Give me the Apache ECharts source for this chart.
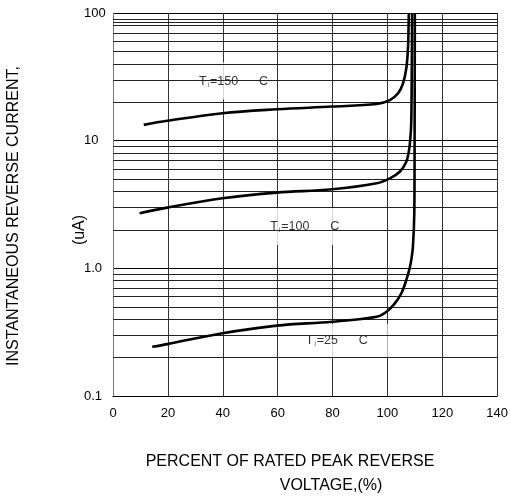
<!DOCTYPE html>
<html>
<head>
<meta charset="utf-8">
<script src="https://cdn.jsdelivr.net/npm/echarts@6/dist/echarts.min.js"></script>
<style>
  html, body { margin: 0; padding: 0; background: #fff; }
  #chart { width: 511px; height: 499px; }
</style>
</head>
<body>
<div id="chart"></div>
<script>
var chartDom = document.getElementById('chart');
var myChart = echarts.init(chartDom);
var option;

// x ticks (percent of rated peak reverse voltage)
const xTicks = [0, 20, 40, 60, 80, 100, 120, 140];
// y tick labels on the log axis
const yTickLabels = { '-1': '0.1', '0': '1.0', '1': '10', '2': '100' };
// the minor grid lines (one extra line at 85 in the top decade)
const gridValues = [
  0.2, 0.3, 0.4, 0.5, 0.6, 0.7, 0.8, 0.9,
  2, 3, 4, 5, 6, 7, 8, 9,
  20, 30, 40, 50, 60, 70, 80, 85, 90
];

// curves: [percent, uA]
const tj150 = [
  [11.2, 13.3], [19.8, 14.3], [39.9, 16.4], [59.7, 17.6], [79.9, 18.5],
  [96.1, 19.4], [100.9, 20.8], [103.9, 23.5], [105.7, 28.1], [106.9, 36.9],
  [107.5, 52.9], [107.7, 76], [107.8, 100]
];
const tj100 = [
  [9.7, 2.70], [19.8, 2.99], [39.9, 3.54], [59.7, 3.92], [79.9, 4.16],
  [96.1, 4.64], [100.9, 5.07], [104.5, 5.71], [106.9, 6.84], [107.9, 8.45],
  [108.4, 10.7], [108.7, 14], [108.9, 40], [109.0, 100]
];
const tj25 = [
  [14.3, 0.243], [19.8, 0.255], [39.9, 0.31], [59.7, 0.356], [79.9, 0.382],
  [96.1, 0.418], [99.7, 0.457], [102.7, 0.532], [105.1, 0.638], [106.9, 0.811],
  [108.1, 1.0], [108.7, 1.16], [109.3, 1.48], [109.8, 2.7], [109.9, 6.7],
  [110.0, 100]
];

// curve labels: [percent, uA, temperature]
const tempLabels = [
  [27.7, 29.3, '150'],
  [51.5, 2.13, '100'],
  [66.6, 0.272, '25']
];
const labelPad = [
  [12, 1, 12, 10],
  [12, 4, 12, 16],
  [10, 20, 10, 10]
];

const font = 'Liberation Sans';

function curve(name, data) {
  return {
    name: name,
    type: 'line',
    data: data,
    smooth: 0.35,
    showSymbol: false,
    symbol: 'none',
    z: 5,
    lineStyle: { color: '#000', width: 2.6 },
    silent: true
  };
}

function titleText(text, x, y, rotate) {
  return {
    type: 'text',
    x: x,
    y: y,
    rotation: rotate ? Math.PI / 2 : 0,
    style: {
      text: text,
      x: 0, y: 0,
      fill: '#000',
      font: '16px "Liberation Sans"',
      textAlign: 'center',
      textVerticalAlign: 'middle'
    }
  };
}

option = {
  animation: false,
  backgroundColor: '#fff',
  grid: { left: 113, top: 13, right: 9, bottom: 103 },
  xAxis: {
    type: 'value',
    min: 0,
    max: 140,
    interval: 20,
    axisLine: { show: true, lineStyle: { color: '#000', width: 1 } },
    axisTick: { show: false },
    axisLabel: { margin: 11, color: '#000', fontSize: 13, fontFamily: font },
    splitLine: { show: true, lineStyle: { color: '#333', width: 1 } }
  },
  yAxis: {
    type: 'log',
    logBase: 10,
    min: 0.1,
    max: 100,
    axisLine: { show: true, lineStyle: { color: '#777', width: 1 } },
    axisTick: { show: false },
    axisLabel: {
      align: 'left',
      margin: 29,
      color: '#000',
      fontSize: 13,
      fontFamily: font,
      formatter: function (v) {
        return yTickLabels[String(Math.round(Math.log10(v)))] || '';
      }
    },
    splitLine: { show: true, lineStyle: { color: '#000', width: 1 } }
  },
  series: [
    {
      type: 'line',
      data: [],
      silent: true,
      z: 1,
      markLine: {
        silent: true,
        symbol: 'none',
        animation: false,
        label: { show: false },
        lineStyle: { color: '#222', width: 1, type: 'solid' },
        data: gridValues.map(v => ({ yAxis: v }))
      }
    },
    {
      type: 'scatter',
      symbol: 'circle',
      symbolSize: 0,
      silent: true,
      z: 3,
      data: tempLabels.map((d, i) => ({
        value: [d[0], d[1]],
        label: {
          show: true,
          position: 'right',
          distance: 0,
          backgroundColor: '#fff',
          padding: labelPad[i],
          formatter: '{t|T}{s|j}{t|=' + d[2] + '      C}',
          rich: {
            t: { fontSize: 12.5, color: '#000', fontFamily: font },
            s: { fontSize: 6, color: '#000', fontFamily: font, padding: [6, 1, 0, 1] }
          }
        }
      }))
    },
    curve('Tj=150', tj150),
    curve('Tj=100', tj100),
    curve('Tj=25', tj25)
  ],
  graphic: [
    titleText('INSTANTANEOUS REVERSE CURRENT,', 14, 216, true),
    titleText('(uA)', 80, 230, true),
    titleText('PERCENT OF RATED PEAK REVERSE', 290, 462, false),
    titleText('VOLTAGE,(%)', 331, 486, false)
  ]
};

option && myChart.setOption(option);
</script>
</body>
</html>
